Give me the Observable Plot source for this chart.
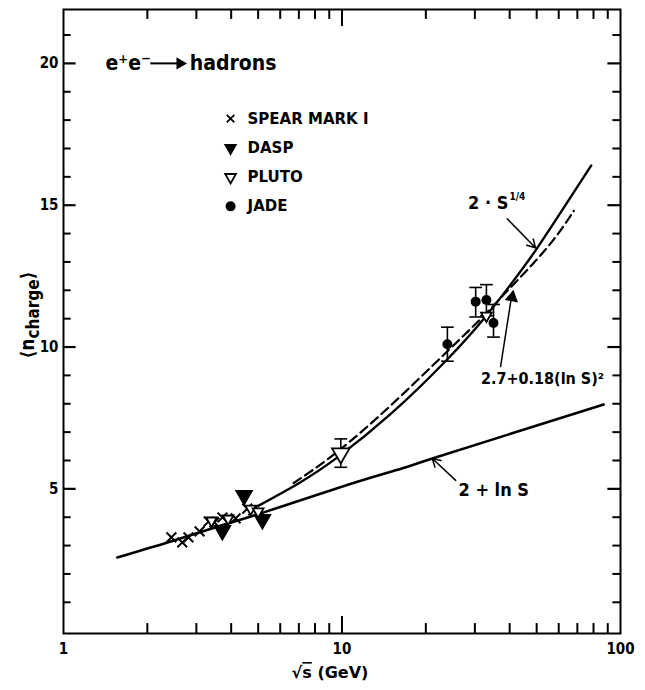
<!DOCTYPE html>
<html><head><meta charset="utf-8">
<script src="https://cdn.jsdelivr.net/npm/d3@7"></script>
<script src="https://cdn.jsdelivr.net/npm/@observablehq/plot@0.6"></script>
<style>body{margin:0;background:#fff}</style>
</head><body><div id="chart"></div>
<script>
// ---- data ----
const spearE = [2.44, 2.67, 2.81, 3.08, 3.32, 3.48, 3.72, 4.15, 4.57, 4.8];
const spearN = [3.29, 3.11, 3.29, 3.50, 3.85, 3.82, 3.99, 3.96, 4.30, 4.24];
const daspE = [3.72, 4.45, 5.18];
const daspN = [3.53, 4.77, 3.92];
const plutoE = [3.4, 3.9, 4.7, 5.0, 9.9, 33];
const plutoN = [3.88, 3.95, 4.3, 4.2, 6.25, 11.1];
const plutoErrE = [9.9];
const plutoErrLo = [5.76];
const plutoErrHi = [6.76];
const jadeE = [23.9, 30.2, 33.0, 35.0];
const jadeN = [10.1, 11.6, 11.66, 10.85];
const jadeLo = [9.5, 11.06, 11.1, 10.35];
const jadeHi = [10.7, 12.1, 12.2, 11.5];
// 2·S^1/4 (solid)
const powCurveE = [5.0, 7, 9.6, 15, 23.9, 32.3, 40.3, 49.5, 62, 78.5];
const powCurveN = [4.4, 5.2, 6.1, 7.65, 9.57, 11.0, 12.2, 13.4, 14.85, 16.4];
// 2.7 + 0.18 (ln S)^2 (dashed)
const lnSqCurveE = [6.7, 9.6, 15, 23.9, 32.3, 40.3, 54.5, 68];
const lnSqCurveN = [5.2, 6.3, 7.95, 9.85, 11.1, 12.1, 13.5, 14.8];
// 2 + ln S (solid, lower)
const lnCurveE = [1.56, 2.36, 3.5, 5.24, 10.7, 16.2, 21.1, 40.3, 87];
const lnCurveN = [2.58, 3.11, 3.64, 4.17, 5.17, 5.7, 6.07, 6.94, 7.97];
// axes
const xTickLabels = [1, 10, 100];
const xMinorTicks = [2, 3, 4, 5, 6, 7, 8, 9, 20, 30, 40, 50, 60, 70, 80, 90];
const xMidTicks = [10];
const yTickLabels = [5, 10, 15, 20];
const yMinorTicks = [1, 2, 3, 4, 6, 7, 8, 9, 11, 12, 13, 14, 16, 17, 18, 19, 21];
const legendLabels = ["SPEAR MARK I", "DASP", "PLUTO", "JADE"];

// ---- tables ----
const zip = (xs, ys) => xs.map((x, i) => ({E: x, n: ys[i]}));
const spear = zip(spearE, spearN);
const dasp = zip(daspE, daspN);
const pluto = zip(plutoE, plutoN);
const plutoErr = plutoErrE.map((e, i) => ({E: e, lo: plutoErrLo[i], hi: plutoErrHi[i]}));
const jade = jadeE.map((e, i) => ({E: e, n: jadeN[i], lo: jadeLo[i], hi: jadeHi[i]}));
const errs = [...plutoErr, ...jade];
const caps = errs.flatMap(d => [{E: d.E, n: d.lo}, {E: d.E, n: d.hi}]);
const legend = legendLabels.map((t, i) => ({t, i}));

const Y0 = -0.1, Y1 = 21.9;
const numFont = "'DejaVu Sans Condensed', 'Liberation Sans Narrow', sans-serif";
const capSym = {draw(ctx, size) { const w = Math.sqrt(size) * 0.9; ctx.moveTo(-w, 0); ctx.lineTo(w, 0); }};
const legY = d => 18.05 - d.i * 1.03;

const plot = Plot.plot({
  width: 645, height: 690,
  marginLeft: 63, marginRight: 25, marginTop: 9, marginBottom: 57,
  x: {type: "log", domain: [1, 100], range: [63, 620], axis: null},
  y: {domain: [Y0, Y1], range: [633, 9], axis: null},
  style: {fontFamily: numFont, background: "white"},
  marks: [
    Plot.frame({stroke: "black", strokeWidth: 2}),
    // inward ticks
    Plot.ruleX(xMinorTicks, {x: d => d, y1: Y0, y2: Y0 + 0.35, stroke: "black", strokeWidth: 2}),
    Plot.ruleX(xMidTicks, {x: d => d, y1: Y0, y2: Y0 + 0.6, stroke: "black", strokeWidth: 2}),
    Plot.ruleX(xMinorTicks, {x: d => d, y1: Y1, y2: Y1 - 0.35, stroke: "black", strokeWidth: 2}),
    Plot.ruleX(xMidTicks, {x: d => d, y1: Y1, y2: Y1 - 0.6, stroke: "black", strokeWidth: 2}),
    Plot.ruleY(yMinorTicks, {y: d => d, x1: 1, x2: 1.065, stroke: "black", strokeWidth: 2}),
    Plot.ruleY(yTickLabels, {y: d => d, x1: 1, x2: 1.11, stroke: "black", strokeWidth: 2.2}),
    Plot.ruleY(yMinorTicks, {y: d => d, x1: 100, x2: 100 / 1.065, stroke: "black", strokeWidth: 2}),
    Plot.ruleY(yTickLabels, {y: d => d, x1: 100, x2: 100 / 1.11, stroke: "black", strokeWidth: 2.2}),
    // tick labels
    Plot.text(xTickLabels, {x: d => d, y: Y0, dy: 16, text: d => String(d), fontSize: 15, fontWeight: "bold"}),
    Plot.text(yTickLabels, {x: 1, y: d => d, dx: -5, textAnchor: "end", text: d => String(d), fontSize: 15, fontWeight: "bold"}),
    // curves
    Plot.line(zip(lnCurveE, lnCurveN), {x: "E", y: "n", curve: "natural", strokeWidth: 2.6}),
    Plot.line(zip(powCurveE, powCurveN), {x: "E", y: "n", curve: "natural", strokeWidth: 2.4}),
    Plot.line(zip(lnSqCurveE, lnSqCurveN), {x: "E", y: "n", curve: "natural", strokeWidth: 2.2, strokeDasharray: "9,5"}),
    // error bars
    Plot.ruleX(errs, {x: "E", y1: "lo", y2: "hi", strokeWidth: 1.6}),
    Plot.dot(caps, {x: "E", y: "n", symbol: capSym, r: 4, stroke: "black", strokeWidth: 1.6}),
    // data
    Plot.dot(spear, {x: "E", y: "n", symbol: "times", r: 4.5, stroke: "black", strokeWidth: 2}),
    Plot.dot(dasp, {x: "E", y: "n", symbol: "triangle", r: 6, fill: "black", stroke: "black", rotate: 180}),
    Plot.dot(pluto, {filter: d => d.E < 8 || d.E > 20, x: "E", y: "n", symbol: "triangle", r: 4, fill: "white", stroke: "black", strokeWidth: 1.8, rotate: 180}),
    Plot.dot(pluto, {filter: d => d.E >= 8 && d.E <= 20, x: "E", y: "n", symbol: "triangle", r: 6.5, fill: "white", stroke: "black", strokeWidth: 1.8, rotate: 180}),
    Plot.dot(jade, {x: "E", y: "n", symbol: "circle", r: 5, fill: "black"}),
    // legend
    Plot.dot(legend.filter(d => d.i === 0), {x: 3.98, y: legY, symbol: "times", r: 3.5, stroke: "black", strokeWidth: 1.8}),
    Plot.dot(legend.filter(d => d.i === 1), {x: 3.98, y: legY, symbol: "triangle", r: 5, fill: "black", rotate: 180}),
    Plot.dot(legend.filter(d => d.i === 2), {x: 3.98, y: legY, symbol: "triangle", r: 4, fill: "white", stroke: "black", strokeWidth: 1.8, rotate: 180}),
    Plot.dot(legend.filter(d => d.i === 3), {x: 3.98, y: legY, symbol: "circle", r: 5, fill: "black"}),
    Plot.text(legend, {x: 4.58, y: legY, text: "t", textAnchor: "start", fontSize: 15, fontWeight: "bold", fontFamily: "'DejaVu Sans', sans-serif"}),
    // title: e+e- ——► hadrons
    Plot.text(["e⁺e⁻"], {x: 1.415, y: 20, text: d => d, textAnchor: "start", fontSize: 21, fontWeight: "bold"}),
    Plot.link([0], {x1: 2.05, x2: 2.62, y1: 20, y2: 20, stroke: "black", strokeWidth: 2}),
    Plot.dot([0], {x: 2.62, y: 20, symbol: "triangle", r: 4.5, fill: "black", rotate: 90}),
    Plot.text(["hadrons"], {x: 2.84, y: 20, text: d => d, textAnchor: "start", fontSize: 21, fontWeight: "bold"}),
    // annotations
    Plot.text(["2 · S"], {x: 39.6, y: 15.06, text: d => d, textAnchor: "end", fontSize: 18, fontWeight: "bold"}),
    Plot.text(["1/4"], {x: 39.6, y: 15.06, dx: 1, dy: -7, text: d => d, textAnchor: "start", fontSize: 10, fontWeight: "bold"}),
    Plot.arrow([0], {x1: 39.2, y1: 14.52, x2: 49.5, y2: 13.5, strokeWidth: 1.5, headLength: 9}),
    Plot.text(["2.7+0.18(ln S)²"], {x: 52.5, y: 8.89, text: d => d, fontSize: 16, fontWeight: "bold"}),
    Plot.arrow([0], {x1: 37.1, y1: 9.31, x2: 40.8, y2: 11.9, strokeWidth: 1.5, headLength: 0}),
    Plot.dot([0], {x: 40.8, y: 11.75, symbol: "triangle", r: 5, fill: "black", rotate: 10}),
    Plot.text(["2 + ln S"], {x: 26.2, y: 4.94, text: d => d, textAnchor: "start", fontSize: 18, fontWeight: "bold"}),
    Plot.arrow([0], {x1: 25.6, y1: 5.30, x2: 21.1, y2: 6.07, strokeWidth: 1.5, headLength: 9})
  ]
});

// axis titles with sub/overline styling
const svg = d3.select(plot);
const yl = svg.append("text")
  .attr("transform", "translate(34,315) rotate(-90)")
  .attr("text-anchor", "middle")
  .attr("font-family", numFont)
  .attr("font-weight", "bold")
  .attr("font-size", 19);
yl.append("tspan").text("⟨n");
yl.append("tspan").attr("dy", 5).attr("font-size", 17).text("charge");
yl.append("tspan").attr("dy", -5).text("⟩");
const xl = svg.append("text")
  .attr("x", 330).attr("y", 678)
  .attr("text-anchor", "middle")
  .attr("font-family", "'DejaVu Sans', sans-serif")
  .attr("font-weight", "bold")
  .attr("font-size", 16);
xl.append("tspan").text("√");
xl.append("tspan").attr("text-decoration", "overline").text("s");
xl.append("tspan").text(" (GeV)");

document.getElementById("chart").appendChild(plot);
</script>
</body></html>
